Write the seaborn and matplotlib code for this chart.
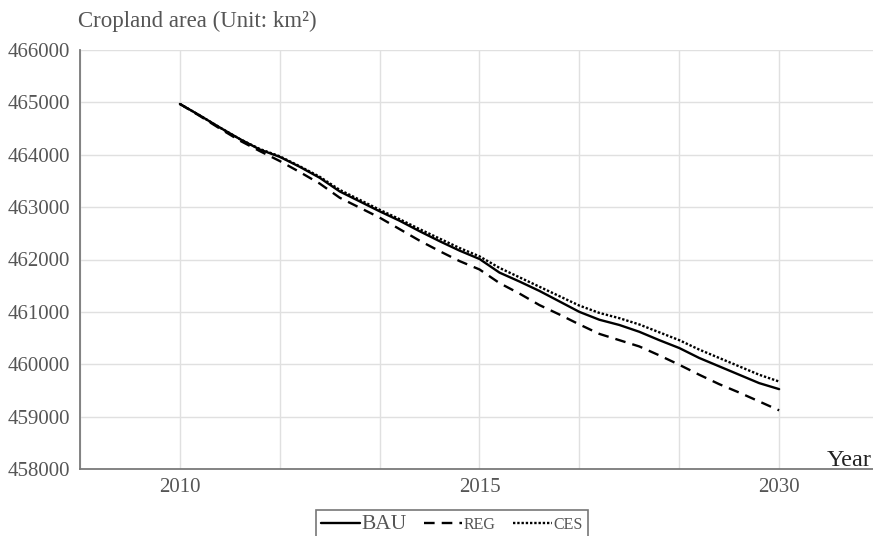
import numpy as np
import pandas as pd
import matplotlib
matplotlib.use("Agg")
import matplotlib.pyplot as plt
import seaborn as sns
from matplotlib.lines import Line2D

# Cropland area projections (km^2), sampled along the projection period
step = list(range(31))
bau = [464970, 464750, 464520, 464300, 464100, 463960, 463770, 463560, 463300, 463110,
       462920, 462740, 462540, 462350, 462170, 462010, 461750, 461580, 461400, 461200,
       461000, 460850, 460750, 460620, 460460, 460310, 460120, 459960, 459800, 459640,
       459525]
reg = [464970, 464740, 464500, 464270, 464070, 463880, 463670, 463450, 463180, 462990,
       462800, 462580, 462360, 462160, 461970, 461810, 461550, 461350, 461130, 460950,
       460760, 460580, 460460, 460340, 460170, 459990, 459800, 459620, 459460, 459290,
       459120]
ces = [464970, 464750, 464520, 464300, 464110, 463970, 463780, 463580, 463330, 463140,
       462950, 462770, 462580, 462400, 462220, 462060, 461840, 461660, 461480, 461300,
       461120, 460980, 460880, 460760, 460610, 460460, 460280, 460120, 459960, 459800,
       459670]
scenarios = ["BAU", "REG", "CES"]
x_label_pos = [0, 15, 30]
x_labels = ["2010", "2015", "2030"]
y_ticks = [458000, 459000, 460000, 461000, 462000, 463000, 464000, 465000, 466000]

df = pd.DataFrame({
    "step": step * 3,
    "area": bau + reg + ces,
    "scenario": [s for s in scenarios for _ in step],
})

sns.set_theme(style="white")
plt.rcParams["font.family"] = ["Liberation Serif", "DejaVu Serif"]

fig = plt.figure(figsize=(8.73, 5.36), dpi=100)
ax = fig.add_axes([80 / 873, 67 / 536, 1 - 80 / 873, (469 - 50) / 536])

dash_map = {"BAU": "", "REG": (4.5, 3), "CES": (1, 0.8)}
sns.lineplot(data=df, x="step", y="area", style="scenario", style_order=scenarios,
             dashes=dash_map, color="black", linewidth=1.7, ax=ax, legend=False,
             sort=False)

ax.set_xlim(-4.95, 34.7)
ax.set_ylim(458000, 466000)
ax.set_yticks(y_ticks)
ax.set_yticklabels([str(v) for v in y_ticks])
ax.set_xticks(range(-5, 35, 5), minor=False)
ax.set_xticklabels([""] * len(range(-5, 35, 5)))
ax.grid(True, color="#e0e0e0", linewidth=1.0)
ax.set_axisbelow(True)
ax.tick_params(axis="both", length=0, labelsize=15, labelcolor="#555555", pad=7)
for xp, lab in zip(x_label_pos, x_labels):
    ax.text(xp, -0.043, lab, transform=ax.get_xaxis_transform(), ha="center", va="center",
            fontsize=15, color="#555555")
ax.set_xlabel("")
ax.set_ylabel("")

for side in ["top", "right"]:
    ax.spines[side].set_visible(False)
for side in ["left", "bottom"]:
    ax.spines[side].set_color("#7a7a7a")
    ax.spines[side].set_linewidth(1.3)

fig.text(78 / 873, 1 - 21 / 536, "Cropland area (Unit: km\u00b2)", fontsize=16.5,
         color="#555555", ha="left", va="center")
fig.text(827 / 873, 1 - 460 / 536, "Year", fontsize=17.5, color="#222222",
         ha="left", va="center")

handles = [Line2D([], [], color="black", lw=1.7, linestyle=(0, dash_map[s]) if dash_map[s] else "-")
           for s in scenarios]
leg = fig.legend(handles, scenarios, loc="upper center", bbox_to_anchor=(452 / 873, 1 - 502 / 536),
                 ncol=3, frameon=True, fancybox=False, handlelength=2.4, handletextpad=0.1,
                 columnspacing=1.1, borderpad=0.3, fontsize=11.5)
leg.get_frame().set_edgecolor("#555555")
leg.get_frame().set_linewidth(1.2)
texts = leg.get_texts()
texts[0].set_fontsize(15.5)
for t in texts:
    t.set_color("#555555")

fig.savefig("out.png", dpi=100)
